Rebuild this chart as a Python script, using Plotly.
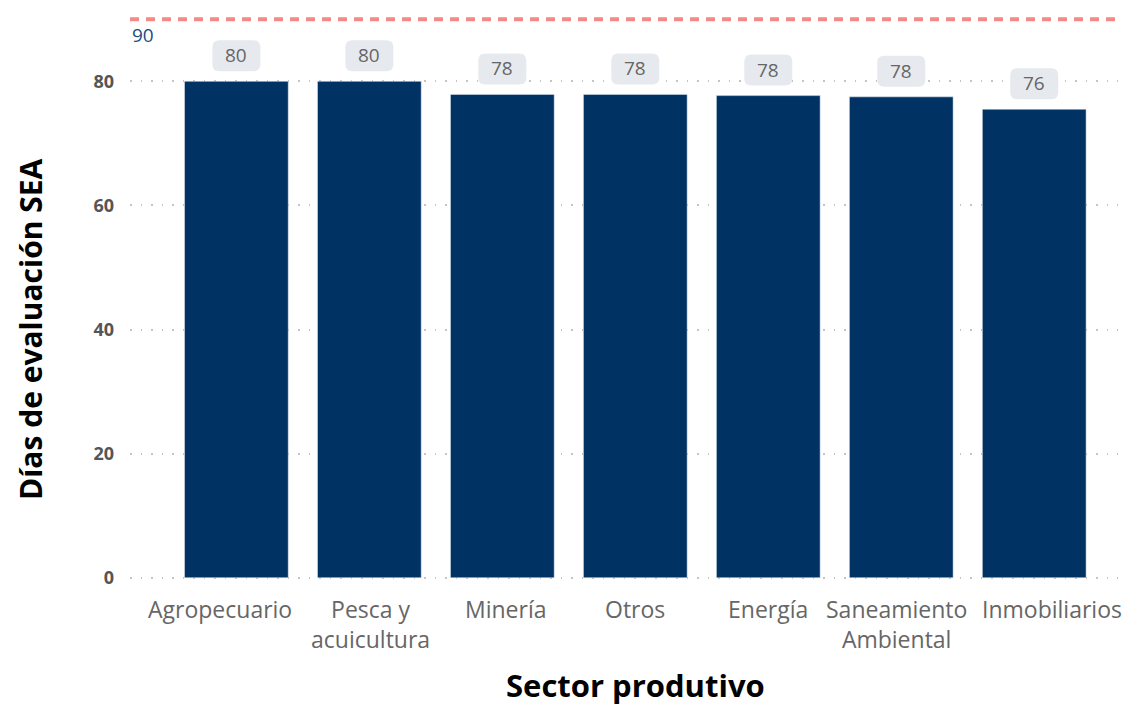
import plotly.graph_objects as go

sectores = ["Agropecuario", "Pesca y<br>acuicultura", "Minería", "Otros", "Energía",
            "Saneamiento<br>Ambiental", "Inmobiliarios"]
dias = [80.0, 80.0, 77.9, 77.9, 77.7, 77.5, 75.5]
meta_dias = 90
y_ticks = [0, 20, 40, 60, 80]

# horizontal nudges (px) of the category labels, as in the reference
label_nudge = [-16, 1, 4, 0, 0, -5, 18]

W, H = 1122, 702
L, R, T, B = 122, 12, 2, 123
PW, PH = W - L - R, H - T - B


def rounded_box(w, h, r, gap):
    x0, x1 = -w / 2, w / 2
    y0, y1 = gap, gap + h
    return (f"M {x0 + r},{y0} L {x1 - r},{y0} Q {x1},{y0} {x1},{y0 + r} "
            f"L {x1},{y1 - r} Q {x1},{y1} {x1 - r},{y1} L {x0 + r},{y1} "
            f"Q {x0},{y1} {x0},{y1 - r} L {x0},{y0 + r} Q {x0},{y0} {x0 + r},{y0} Z")


fig = go.Figure()
fig.add_trace(go.Bar(x=list(range(len(sectores))), y=dias, marker_color="#003263",
                     width=0.78, hoverinfo="skip"))

box_path = rounded_box(48, 31, 7, 10)
for i, v in enumerate(dias):
    fig.add_shape(type="path", xsizemode="pixel", ysizemode="pixel", xanchor=i, yanchor=v,
                  path=box_path, fillcolor="#e6eaee", line=dict(width=0), layer="above")
    fig.add_annotation(x=i, y=v, text=f"{int(v + 0.5):d}", showarrow=False, yanchor="middle",
                       yshift=26, font=dict(family="Open Sans", size=19, color="#666666"))

for i, (s, dx) in enumerate(zip(sectores, label_nudge)):
    fig.add_annotation(x=i, yref="paper", y=0, text=s, showarrow=False, xanchor="center",
                       yanchor="top", yshift=-4, xshift=dx, align="center",
                       font=dict(family="Open Sans", size=23, color="#666666"))

fig.add_shape(type="line", xref="paper", x0=0, x1=1.02, y0=meta_dias, y1=meta_dias,
              line=dict(color="#f58a85", width=4, dash="9px,7px"))
fig.add_annotation(xref="paper", x=0, y=meta_dias, text=str(meta_dias), showarrow=False,
                   xanchor="left", yanchor="top", yshift=-1,
                   font=dict(family="Open Sans", size=19, color="#1b4f80"))

fig.add_annotation(xref="paper", yref="paper", x=(627 - L) / PW, y=(H - B - 677) / PH,
                   text="<b>Sector produtivo</b>", showarrow=False, xanchor="center",
                   yanchor="middle", font=dict(family="Open Sans", size=31, color="black"))
fig.add_annotation(xref="paper", yref="paper", x=(22 - L) / PW, y=(H - B - 321) / PH,
                   text="<b>Días de evaluación SEA</b>", showarrow=False, textangle=-90,
                   xanchor="center", yanchor="middle",
                   font=dict(family="Open Sans", size=30, color="black"))

fig.update_layout(
    width=W, height=H, plot_bgcolor="white", paper_bgcolor="white",
    margin=dict(l=L, r=R, t=T, b=B, autoexpand=False), showlegend=False,
    xaxis=dict(range=[-0.8, 6.63], showgrid=False, zeroline=False, showline=False,
               showticklabels=False, automargin=False),
    yaxis=dict(range=[-1.5, 91.5], tickvals=y_ticks, showgrid=True, gridcolor="#c4c4c4",
               griddash="1.5px,9px", gridwidth=1.5, zeroline=False, showline=False,
               ticklabelstandoff=15, automargin=False,
               tickfont=dict(family="Open Sans", size=18, color="#555555", weight="bold")),
)

fig.write_html("out.html")
